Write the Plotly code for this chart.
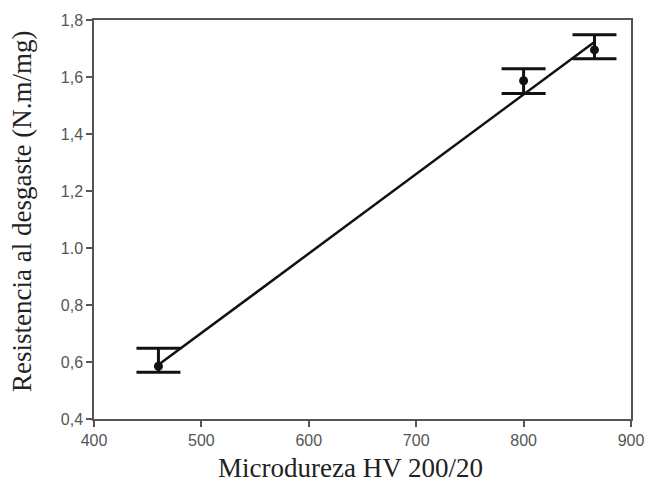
import plotly.graph_objects as go

# Data
hv = [460, 800, 866]
resist = [0.585, 1.587, 1.695]
err_plus = [0.063, 0.042, 0.053]
err_minus = [0.021, 0.045, 0.031]

fit_x = [460, 865]
fit_y = [0.59, 1.72]

y_ticks = [0.4, 0.6, 0.8, 1.0, 1.2, 1.4, 1.6, 1.8]
y_ticktext = ["0,4", "0,6", "0,8", "1.0", "1,2", "1,4", "1,6", "1,8"]
x_ticks = [400, 500, 600, 700, 800, 900]

x_title = "Microdureza HV 200/20"
y_title = "Resistencia al desgaste (N.m/mg)"

fig = go.Figure()
fig.add_trace(go.Scatter(
    x=fit_x, y=fit_y, mode="lines",
    line=dict(color="#111111", width=2.5), showlegend=False,
))
fig.add_trace(go.Scatter(
    x=hv, y=resist, mode="markers",
    marker=dict(color="#111111", size=9),
    error_y=dict(type="data", symmetric=False, array=err_plus, arrayminus=err_minus,
                 color="#111111", thickness=3, width=22),
    showlegend=False,
))

axis_common = dict(
    showline=True, linecolor="#555555", linewidth=1.5, mirror=True,
    ticks="outside", ticklen=6, tickcolor="#555555", tickwidth=1.5,
    showgrid=False, zeroline=False,
    tickfont=dict(family="Liberation Sans, Arial, sans-serif", size=16, color="#555555"),
)

title_font = dict(family="Liberation Serif, Times New Roman, serif", size=27, color="#222222")

fig.update_layout(
    width=656, height=484,
    margin=dict(l=94, r=16, t=17, b=65),
    paper_bgcolor="white", plot_bgcolor="white",
    xaxis=dict(range=[400, 900], tickvals=x_ticks, **axis_common),
    yaxis=dict(range=[0.4, 1.8], tickvals=y_ticks, ticktext=y_ticktext, **axis_common),
    annotations=[
        dict(text=x_title, xref="paper", yref="paper", x=0.477, y=-0.124,
             xanchor="center", yanchor="middle", showarrow=False, font=title_font),
        dict(text=y_title, xref="paper", yref="paper", x=-0.135, y=0.52,
             xanchor="center", yanchor="middle", textangle=-90, showarrow=False,
             font=title_font),
    ],
)

fig.write_html("out.html")
